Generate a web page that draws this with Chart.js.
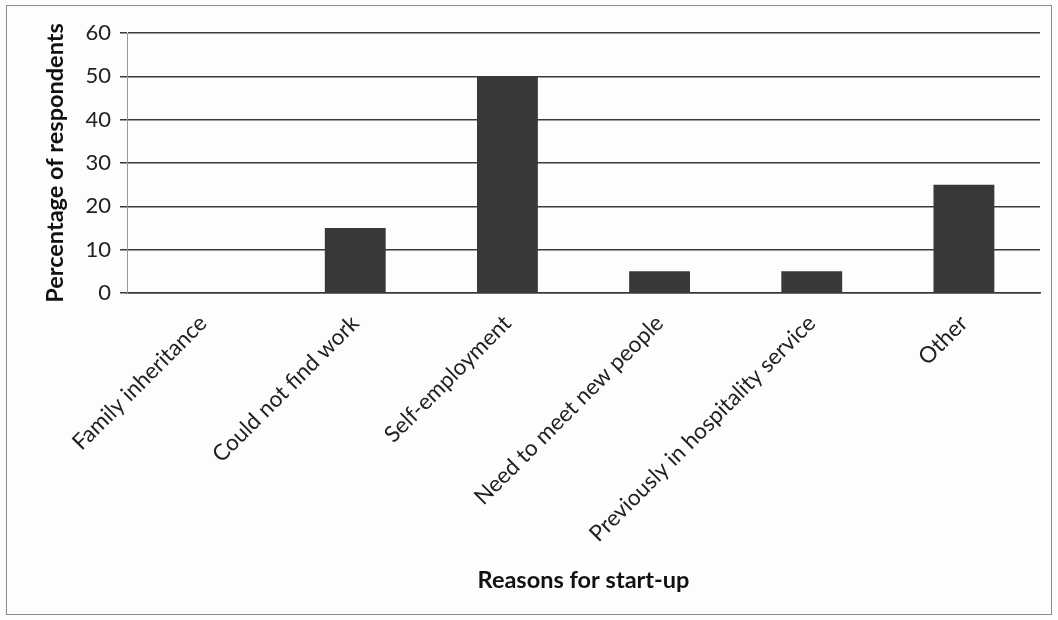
<!DOCTYPE html>
<html>
<head>
<meta charset="utf-8">
<script src="https://cdn.jsdelivr.net/npm/chart.js@4"></script>
<style>
  html, body { margin: 0; padding: 0; background: #fdfdfd; }
  #frame {
    position: absolute; left: 6px; top: 5px;
    width: 1046px; height: 610px;
    border: 1px solid #8a8a8a; box-sizing: border-box;
  }
</style>
</head>
<body>
<div id="frame"><canvas id="barChart"></canvas></div>
<script>
const reasons = ['Family inheritance', 'Could not find work', 'Self-employment',
  'Need to meet new people', 'Previously in hospitality service', 'Other'];
const percentages = [0, 15, 50, 5, 5, 25];
const yTicks = [0, 10, 20, 30, 40, 50, 60];

const fontFamily = 'Lato, "Open Sans", sans-serif';
Chart.defaults.font.family = fontFamily;
Chart.defaults.color = '#222';

const bar = document.getElementById('barChart');

new Chart(bar, {
  type: 'bar',
  data: {
    labels: reasons,
    datasets: [{
      label: 'Percentage of respondents',
      data: percentages,
      backgroundColor: '#383838',
      borderWidth: 0,
      barPercentage: 0.4,
      categoryPercentage: 1.0
    }]
  },
  options: {
    responsive: true,
    maintainAspectRatio: false,
    animation: false,
    layout: {
      padding: { top: 27, right: 11, bottom: 0, left: 0 }
    },
    plugins: {
      legend: { display: false },
      tooltip: { enabled: false }
    },
    scales: {
      x: {
        afterFit: axis => { axis.height = 321; },
        grid: { display: false, drawTicks: false },
        border: { display: true, color: '#3a3a3a', width: 1.5 },
        ticks: {
          maxRotation: 45,
          minRotation: 45,
          padding: 17,
          color: '#222',
          font: { size: 22.5 }
        },
        title: {
          display: true,
          text: 'Reasons for start-up',
          color: '#111',
          font: { size: 23.5, weight: 'bold' },
          padding: { top: 4, bottom: 19 }
        }
      },
      y: {
        min: 0,
        max: 60,
        afterFit: axis => { axis.width = 120; },
        afterBuildTicks: axis => { axis.ticks = yTicks.map(v => ({ value: v })); },
        grid: {
          color: '#3a3a3a',
          lineWidth: 1.5,
          tickLength: 7
        },
        border: { display: true, color: '#999', width: 1 },
        ticks: {
          padding: 9,
          color: '#222',
          font: { size: 22 }
        },
        title: {
          display: true,
          text: 'Percentage of respondents',
          color: '#111',
          font: { size: 23.5, weight: 'bold' },
          padding: { top: 34, bottom: 0 }
        }
      }
    }
  }
});
</script>
</body>
</html>
